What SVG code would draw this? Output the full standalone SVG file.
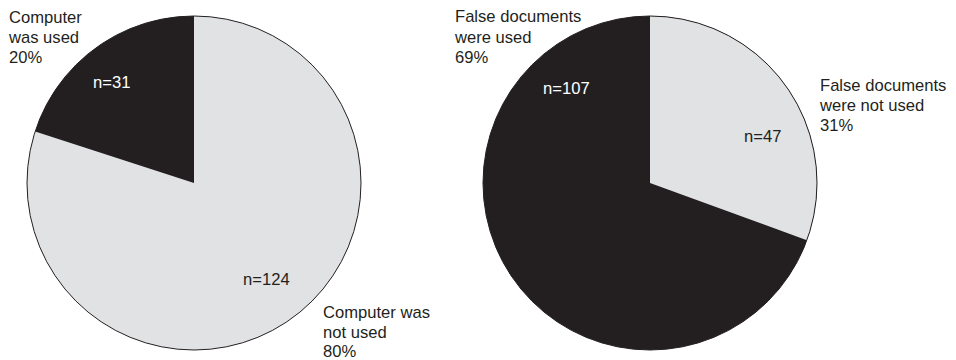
<svg xmlns="http://www.w3.org/2000/svg" width="956" height="360" viewBox="0 0 956 360">
<style>
.lt{fill:#e1e2e4}
.dk{fill:#231f20}
.ol{fill:none;stroke:#231f20;stroke-width:1}
text{font-family:"Liberation Sans",Arial,sans-serif;font-size:16.6px;fill:#231f20}
text.w{fill:#ffffff}
</style>
<rect width="956" height="360" fill="#ffffff"/>
<g id="pie-computer">
<circle class="lt" cx="194" cy="183" r="167"/>
<path id="slice-used" class="dk" d="M194,183 L194,16 A167,167 0 0 0 35.17,131.39 Z"/>
<circle class="ol" cx="194" cy="183" r="167"/>
<text class="w" x="93" y="88">n=31</text>
<text x="243" y="285">n=124</text>
</g>
<g id="label-computer-used">
<text x="9" y="23">Computer</text>
<text x="9" y="43">was used</text>
<text x="9" y="63">20%</text>
</g>
<g id="label-computer-not-used">
<text x="323" y="318">Computer was</text>
<text x="323" y="337.5">not used</text>
<text x="323" y="357">80%</text>
</g>
<g id="pie-documents">
<circle class="dk" cx="650" cy="183" r="167"/>
<path id="slice-not-used" class="lt" d="M650,183 L650,16 A167,167 0 0 1 806.9,240.2 Z"/>
<circle class="ol" cx="650" cy="183" r="167"/>
<text class="w" x="543" y="94">n=107</text>
<text x="744" y="142">n=47</text>
</g>
<g id="label-documents-used">
<text x="455" y="22">False documents</text>
<text x="455" y="43">were used</text>
<text x="455" y="63">69%</text>
</g>
<g id="label-documents-not-used">
<text x="820" y="91">False documents</text>
<text x="820" y="111">were not used</text>
<text x="820" y="131">31%</text>
</g>
</svg>
